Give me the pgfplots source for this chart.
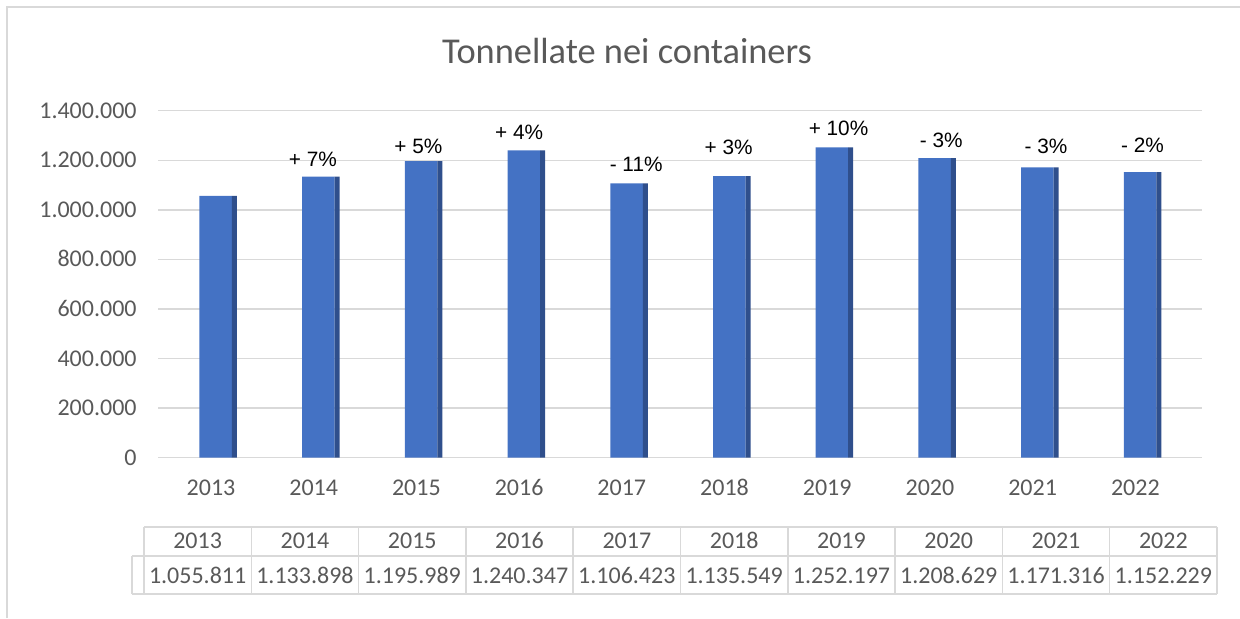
\documentclass[border=0pt]{standalone}
\usepackage{fontspec}
\setmainfont{Carlito}
\newfontfamily\arialfont{Liberation Sans}
\usepackage{pgfplots}
\pgfplotsset{compat=1.18}
\usepackage{pgfplotstable}
\definecolor{barblue}{HTML}{4472C4}
\definecolor{barside}{HTML}{2F4F8C}
\definecolor{txtgray}{HTML}{595959}
\definecolor{gridgray}{HTML}{D9D9D9}

\pgfplotstableread{
x year value
0 2013 1055811
1 2014 1133898
2 2015 1195989
3 2016 1240347
4 2017 1106423
5 2018 1135549
6 2019 1252197
7 2020 1208629
8 2021 1171316
9 2022 1152229
}\datatable

\begin{document}
\begin{tikzpicture}
\begin{scope}[x=0.5pt,y=-0.5pt]
  \useasboundingbox (0,0) rectangle (1240,618);
  \draw[gridgray, line width=0.75pt] (7,618) -- (7,7) -- (1240,7);
  \node[anchor=base, text=txtgray, font=\fontsize{18.2}{21}\selectfont, inner sep=0pt] at (627,63) {Tonnellate nei containers};
  % data table
  \draw[gridgray, line width=0.75pt] (144,527) -- (1217,527);
  \draw[gridgray, line width=0.75pt] (132,556) -- (1217,556);
  \draw[gridgray, line width=0.75pt] (132,594) -- (1217,594);
  \draw[gridgray, line width=0.75pt] (132,556) -- (132,594);
  \foreach \k in {0,...,10} {
    \draw[gridgray, line width=0.75pt] (144+107.3*\k,527) -- (144+107.3*\k,594);
  }
  \foreach \yr [count=\k from 0] in {2013,2014,2015,2016,2017,2018,2019,2020,2021,2022} {
    \node[anchor=base, text=txtgray, font=\fontsize{12}{14}\selectfont, inner sep=0pt] at (197.65+107.3*\k,548.5) {\yr};
  }
  \foreach \v [count=\k from 0] in {1055811,1133898,1195989,1240347,1106423,1135549,1252197,1208629,1171316,1152229} {
    \node[anchor=base, text=txtgray, font=\fontsize{12}{14}\selectfont, inner sep=0pt] at (197.65+107.3*\k,583) {\pgfmathprintnumber[fixed,precision=0,1000 sep={.},assume math mode=true]{\v}};
  }
\end{scope}
\begin{axis}[
  at={(79pt,-228.75pt)}, anchor=south west,
  scale only axis, width=522pt, height=173.4pt,
  xmin=-0.516, xmax=9.649, ymin=0, ymax=1400000,
  ytick={0,200000,400000,600000,800000,1000000,1200000,1400000},
  yticklabels={0,200.000,400.000,600.000,800.000,1.000.000,1.200.000,1.400.000},
  xtick={0,1,2,3,4,5,6,7,8,9},
  xticklabels={2013,2014,2015,2016,2017,2018,2019,2020,2021,2022},
  major tick length=0pt,
  axis line style={draw=none},
  ymajorgrids,
  grid style={gridgray, line width=0.75pt},
  yticklabel style={font=\fontsize{12}{14}\selectfont, text=txtgray, anchor=base east, inner sep=0pt, xshift=-10.5pt, yshift=-3.8pt},
  xticklabel style={font=\fontsize{12}{14}\selectfont, text=txtgray, anchor=base, inner sep=0pt, yshift=-19pt},
  scaled y ticks=false,
  clip=false,
]
\addplot[ybar, bar width=16.25pt, bar shift=2.375pt, fill=barblue, draw=none] table[x=x,y=value]{\datatable};
\addplot[ybar, bar width=2.5pt, bar shift=11.75pt, fill=barside, draw=none] table[x=x,y=value]{\datatable};
\begin{scope}[every node/.style={font=\arialfont\fontsize{10.4}{12}\selectfont, text=black, inner sep=0pt}]
\node at (axis cs:0.993,1205000) {+ 7\%};
\node at (axis cs:2.02,1257500) {+ 5\%};
\node at (axis cs:3.0,1314000) {+ 4\%};
\node at (axis cs:4.14,1184800) {- 11\%};
\node at (axis cs:5.04,1251400) {+ 3\%};
\node at (axis cs:6.11,1330200) {+ 10\%};
\node at (axis cs:7.11,1281700) {- 3\%};
\node at (axis cs:8.13,1257500) {- 3\%};
\node at (axis cs:9.07,1261500) {- 2\%};
\end{scope}
\end{axis}
\end{tikzpicture}
\end{document}
